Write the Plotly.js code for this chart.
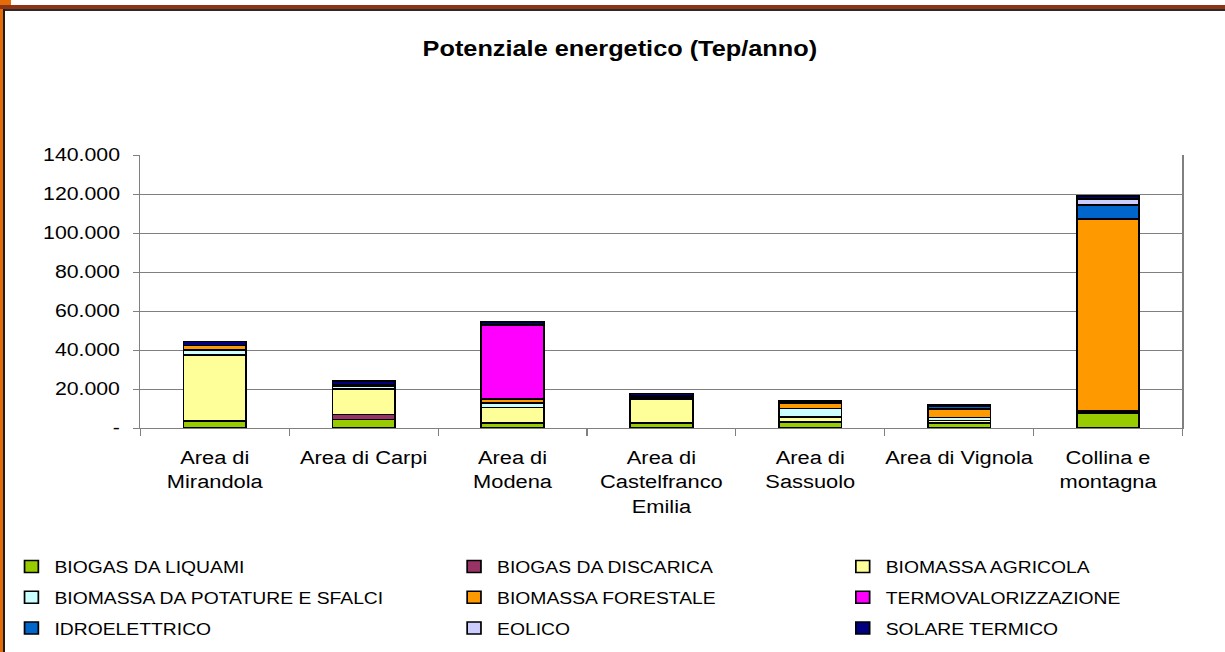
<!DOCTYPE html>
<html>
<head>
<meta charset="utf-8">
<script src="https://cdn.plot.ly/plotly-3.0.1.min.js"></script>
<style>
  html, body { margin:0; padding:0; background:#fff; overflow:hidden; }
  #chart { position:absolute; left:0; top:0; transform-origin:0 0; }
  .deco { position:absolute; pointer-events:none; z-index:10; }
</style>
</head>
<body>
<div id="chart"></div>
<div class="deco" style="left:0;top:0;width:11px;height:5px;background:#E36C09;"></div>
<div class="deco" style="left:0;top:5px;width:1225px;height:4px;background:#8E3314;"></div>
<div class="deco" style="left:3px;top:9px;width:1222px;height:1.5px;background:#2a2a2a;"></div>
<div class="deco" style="left:0;top:9px;width:3px;height:643px;background:#E36C09;"></div>
<div class="deco" style="left:3px;top:9px;width:2px;height:643px;background:#1a1a1a;"></div>
<script>
const categories = ["Area di<br>Mirandola", "Area di Carpi", "Area di<br>Modena", "Area di<br>Castelfranco<br>Emilia", "Area di<br>Sassuolo", "Area di Vignola", "Collina e<br>montagna"];

const biogasLiquami    = [3700, 4300, 2600, 2600, 3200, 2200, 7700];
const biogasDiscarica  = [0, 2700, 0, 0, 0, 300, 300];
const biomassaAgricola = [33700, 13000, 7900, 12300, 2400, 1400, 700];
const biomassaPotature = [2500, 1500, 2400, 800, 4300, 1600, 0];
const biomassaForestale= [2300, 500, 2000, 600, 2900, 4200, 98500];
const termovalorizz    = [0, 0, 38000, 0, 0, 0, 0];
const idroelettrico    = [0, 0, 0, 0, 0, 1600, 7200];
const eolico           = [0, 0, 0, 0, 0, 0, 3100];
const solareTermico    = [2200, 2200, 1400, 1500, 1000, 800, 1500];

const yTickVals = [0, 20000, 40000, 60000, 80000, 100000, 120000, 140000];
const yTickText = ["-", "20.000", "40.000", "60.000", "80.000", "100.000", "120.000", "140.000"];

const series = [
  {name:"BIOGAS DA LIQUAMI", y:biogasLiquami, color:"#99CC00", legend:"legend"},
  {name:"BIOGAS DA DISCARICA", y:biogasDiscarica, color:"#993366", legend:"legend2"},
  {name:"BIOMASSA AGRICOLA", y:biomassaAgricola, color:"#FFFF99", legend:"legend3"},
  {name:"BIOMASSA DA POTATURE E SFALCI", y:biomassaPotature, color:"#CCFFFF", legend:"legend"},
  {name:"BIOMASSA FORESTALE", y:biomassaForestale, color:"#FF9900", legend:"legend2"},
  {name:"TERMOVALORIZZAZIONE", y:termovalorizz, color:"#FF00FF", legend:"legend3"},
  {name:"IDROELETTRICO", y:idroelettrico, color:"#0066CC", legend:"legend"},
  {name:"EOLICO", y:eolico, color:"#CCCCFF", legend:"legend2"},
  {name:"SOLARE TERMICO", y:solareTermico, color:"#000080", legend:"legend3"}
];

const traces = series.map((s, i) => ({
  type:"bar",
  name:s.name,
  x:categories,
  y:s.y,
  legend:s.legend,
  legendgroup:"g"+i,
  marker:{color:s.color, line:{color:"#000000", width:1.5}},
  hoverinfo:"name+y"
}));

// the reference picture is horizontally stretched; draw at a narrower width and stretch
const W = 1065, H = 652, S = 1225 / W;
const chartDiv = document.getElementById("chart");
chartDiv.style.width = W + "px";
chartDiv.style.height = H + "px";
chartDiv.style.transform = "scaleX(" + S + ")";

const font = "Liberation Sans, Arial, sans-serif";
const PL = 140 / S, PR = 1183 / S, PT = 155, PB = 428;
const px = v => (v / S - PL) / (PR - PL);
const py = v => (PB - v) / (PB - PT);

const legendBase = {
  orientation:"v", traceorder:"grouped", xref:"paper", yref:"paper",
  xanchor:"left", yanchor:"top", y:py(549), bgcolor:"rgba(0,0,0,0)", borderwidth:0,
  font:{family:font, size:16.8, color:"#000"}, tracegroupgap:6, itemwidth:30
};

const layout = {
  width:W, height:H,
  margin:{l:PL, r:W-PR, t:PT, b:H-PB, autoexpand:false},
  paper_bgcolor:"#ffffff", plot_bgcolor:"#ffffff",
  barmode:"stack", bargap:0.58,
  showlegend:true,
  title:{text:"<b>Potenziale energetico (Tep/anno)</b>", x:0.506, xref:"container", y:1-48/652, yref:"container", yanchor:"middle",
         font:{family:font, size:22, color:"#000"}},
  xaxis:{type:"category", tickson:"boundaries", ticks:"outside", ticklen:7, tickcolor:"#808080",
         showline:true, linecolor:"#808080", linewidth:1, showgrid:false, tickangle:0, ticklabelstandoff:12,
         tickfont:{family:font, size:19, color:"#000"}, automargin:false},
  yaxis:{range:[0,140000], tickvals:yTickVals, ticktext:yTickText, ticks:"outside", ticklen:5, tickcolor:"#808080",
         showline:true, mirror:true, linecolor:"#808080", linewidth:1, ticklabelstandoff:8,
         showgrid:true, gridcolor:"#808080", gridwidth:1, zeroline:false,
         tickfont:{family:font, size:18.5, color:"#000"}, automargin:false},
  legend:Object.assign({}, legendBase, {x:px(8)}),
  legend2:Object.assign({}, legendBase, {x:px(451)}),
  legend3:Object.assign({}, legendBase, {x:px(840)})
};

Plotly.newPlot("chart", traces, layout, {displayModeBar:false, staticPlot:true});
</script>
</body>
</html>
